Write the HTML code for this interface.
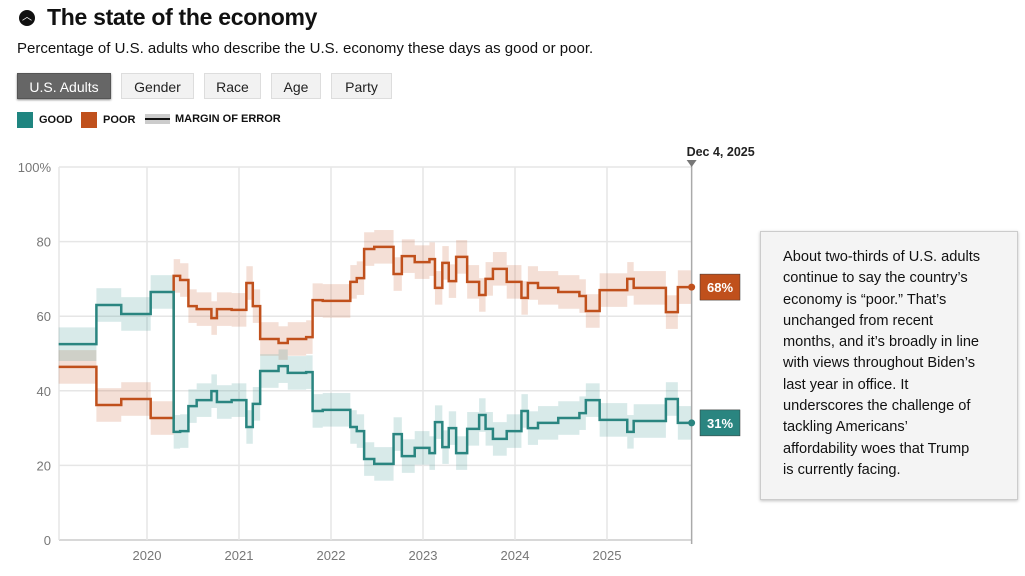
<!DOCTYPE html>
<html><head><meta charset="utf-8"><style>
body{margin:0;background:#fff;width:1025px;height:576px;overflow:hidden;font-family:"Liberation Sans",sans-serif;color:#111;position:relative}
.abs{position:absolute}
.btn{position:absolute;top:73px;height:26px;line-height:26px;text-align:center;font-size:14px;background:#f2f2f2;border:1px solid #ddd;box-sizing:border-box;color:#222}
.leg{position:absolute;top:112px;font-size:11px;font-weight:bold;line-height:14px}
</style></head><body>
<div class="abs" style="left:19px;top:10px;width:16px;height:16px;border-radius:50%;background:#111;color:#fff;font-size:10px;line-height:15px;text-align:center">︿</div>
<div class="abs" style="left:47px;top:4px;font-size:23px;font-weight:bold;letter-spacing:-0.3px">The state of the economy</div>
<div class="abs" style="left:17px;top:40px;font-size:15px">Percentage of U.S. adults who describe the U.S. economy these days as good or poor.</div>
<div class="btn" style="left:17px;width:94px;background:#666;color:#fff;border-color:#555;box-shadow:0 1px 2px #888">U.S. Adults</div>
<div class="btn" style="left:121px;width:73px">Gender</div>
<div class="btn" style="left:204px;width:57px">Race</div>
<div class="btn" style="left:271px;width:50px">Age</div>
<div class="btn" style="left:331px;width:61px">Party</div>
<div class="leg" style="left:17px"><span style="display:inline-block;width:16px;height:16px;background:#1f8580;vertical-align:middle;margin-right:6px"></span>GOOD</div>
<div class="leg" style="left:81px"><span style="display:inline-block;width:16px;height:16px;background:#c0501c;vertical-align:middle;margin-right:6px"></span>POOR</div>
<div class="leg" style="left:145px"><span style="display:inline-block;width:25px;height:10px;background:#ccc;vertical-align:middle;margin-right:5px;position:relative"><span style="position:absolute;left:0;top:4px;width:25px;height:2px;background:#111"></span></span>MARGIN OF ERROR</div>

<svg id="chart" class="abs" style="left:0;top:0" width="1025" height="576"></svg>

<div class="abs" style="left:760px;top:231px;width:258px;height:269px;background:#f4f4f4;border:1px solid #ccc;box-sizing:border-box;box-shadow:0 1px 3px rgba(0,0,0,.25);padding:15px 34px 0 22px;font-size:14.6px;line-height:21.3px;color:#111">About two-thirds of U.S. adults continue to say the country’s economy is “poor.” That’s unchanged from recent months, and it’s broadly in line with views throughout Biden’s last year in office. It underscores the challenge of tackling Americans’ affordability woes that Trump is currently facing.</div>

<script>
const dates=[2019.04,2019.45,2019.72,2020.04,2020.29,2020.36,2020.45,2020.54,2020.70,2020.76,2020.92,2021.08,2021.15,2021.23,2021.43,2021.53,2021.73,2021.80,2021.91,2022.21,2022.28,2022.36,2022.47,2022.68,2022.77,2022.91,2023.07,2023.13,2023.21,2023.28,2023.36,2023.48,2023.61,2023.68,2023.76,2023.91,2024.07,2024.14,2024.25,2024.47,2024.70,2024.77,2024.92,2025.22,2025.29,2025.64,2025.77];
const poor=[46.4,36.2,37.8,32.7,70.8,69.7,62.7,61.9,59.5,61.9,61.7,68.9,62.7,53.9,52.8,53.9,54.4,64.3,64.1,69.2,70.2,78.0,78.6,71.3,76.1,74.5,75.3,67.6,74.3,69.4,75.9,69.2,65.7,70.0,72.7,69.2,64.9,68.9,67.6,66.5,65.4,61.4,67.0,70.0,67.6,61.1,67.8];
const good=[52.5,63.0,60.6,66.5,29.0,29.2,35.9,37.5,39.9,37.0,37.5,30.3,36.5,45.3,46.6,44.8,45.0,34.6,34.9,30.3,29.2,21.7,20.4,28.4,22.5,24.7,23.3,31.6,24.9,30.0,23.3,29.8,33.5,29.8,27.1,29.2,34.6,30.0,31.4,32.7,34.0,37.5,32.2,29.0,31.9,37.8,31.4];
const moe=[4.5,4.5,4.5,4.5,4.5,4.5,4.5,4.5,4.5,4.5,4.5,4.5,4.5,4.5,4.5,4.5,4.5,4.5,4.5,4.5,4.5,4.5,4.5,4.5,4.5,4.5,4.5,4.5,4.5,4.5,4.5,4.5,4.5,4.5,4.5,4.5,4.5,4.5,4.5,4.5,4.5,4.5,4.5,4.5,4.5,4.5,4.5];
const endDate=2025.92;
const yTicks=[0,20,40,60,80,100];
const yTickLabels=["0","20","40","60","80","100%"];
const xTicks=[2020,2021,2022,2023,2024,2025];
const endLabel="Dec 4, 2025";

const NS="http://www.w3.org/2000/svg";
const svg=document.getElementById('chart');
const X=d=>147+(d-2020)*92;
const Y=v=>540-v*3.73;
function el(t,a,p){const e=document.createElementNS(NS,t);for(const k in a)e.setAttribute(k,a[k]);(p||svg).appendChild(e);return e;}

yTicks.forEach((t,i)=>{
  const g=el('line',{x1:59,x2:692,y1:Y(t),y2:Y(t),stroke:t===0?'#ccc':'#e6e6e6','stroke-width':1.5});
  
  
  const tx=el('text',{x:51,y:Y(t)+5,'text-anchor':'end','font-size':13,fill:'#777','font-family':'Liberation Sans'});
  tx.textContent=yTickLabels[i];
  
  
});
el('line',{x1:59,x2:59,y1:Y(100),y2:540,stroke:'#e6e6e6','stroke-width':1.5});
xTicks.forEach(t=>{
  const g=el('line',{x1:X(t),x2:X(t),y1:Y(100),y2:540,stroke:'#e6e6e6','stroke-width':1.5});
  
  
  const tx=el('text',{x:X(t),y:560,'text-anchor':'middle','font-size':13,fill:'#777','font-family':'Liberation Sans'});
  tx.textContent=t;
  
  
});

function band(vals,fill,name){
  for(let i=0;i<dates.length;i++){
    const x0=X(dates[i]),x1=X(i+1<dates.length?dates[i+1]:endDate);
    const r=el('rect',{x:x0,y:Y(vals[i]+moe[i]),width:x1-x0,height:Y(vals[i]-moe[i])-Y(vals[i]+moe[i]),fill:fill});
    
    
  }
}
function step(vals,color,name){
  let d='';
  for(let i=0;i<dates.length;i++){
    const x0=X(dates[i]),x1=X(i+1<dates.length?dates[i+1]:endDate);
    d+=(i===0?'M':'L')+x0+','+Y(vals[i])+'L'+x1+','+Y(vals[i]);
  }
  const p=el('path',{d:d,fill:'none',stroke:color,'stroke-width':2.5});
  
  
}
band(poor,'rgba(205,110,70,0.22)','poor-moe-band');
band(good,'rgba(60,150,145,0.2)','good-moe-band');
step(poor,'#c0501c','poor-line');
step(good,'#2a8580','good-line');

const ex=X(endDate);
const vl=el('line',{x1:ex,x2:ex,y1:162,y2:544,stroke:'#aaa','stroke-width':1.5});


el('path',{d:`M${ex-5},160L${ex+5},160L${ex},167Z`,fill:'#777'});
const dl=el('text',{x:ex+29,y:156,'text-anchor':'middle','font-size':12.5,'font-weight':'bold',fill:'#222','font-family':'Liberation Sans'});
dl.textContent=endLabel;



function endTag(v,color,name){
  el('circle',{cx:ex,cy:Y(v),r:3.5,fill:color});
  const g=el('g',{});
  
  
  el('rect',{x:700,y:Y(v)-13,width:40,height:26,fill:color,stroke:'#333','stroke-width':0.5},g);
  const t=el('text',{x:720,y:Y(v)+5,'text-anchor':'middle','font-size':13,'font-weight':'bold',fill:'#fff','font-family':'Liberation Sans'},g);
  t.textContent=Math.round(v)+'%';
}
endTag(poor[poor.length-1],'#c0501c','poor-end-label');
endTag(good[good.length-1],'#2a8580','good-end-label');
</script>
</body></html>
